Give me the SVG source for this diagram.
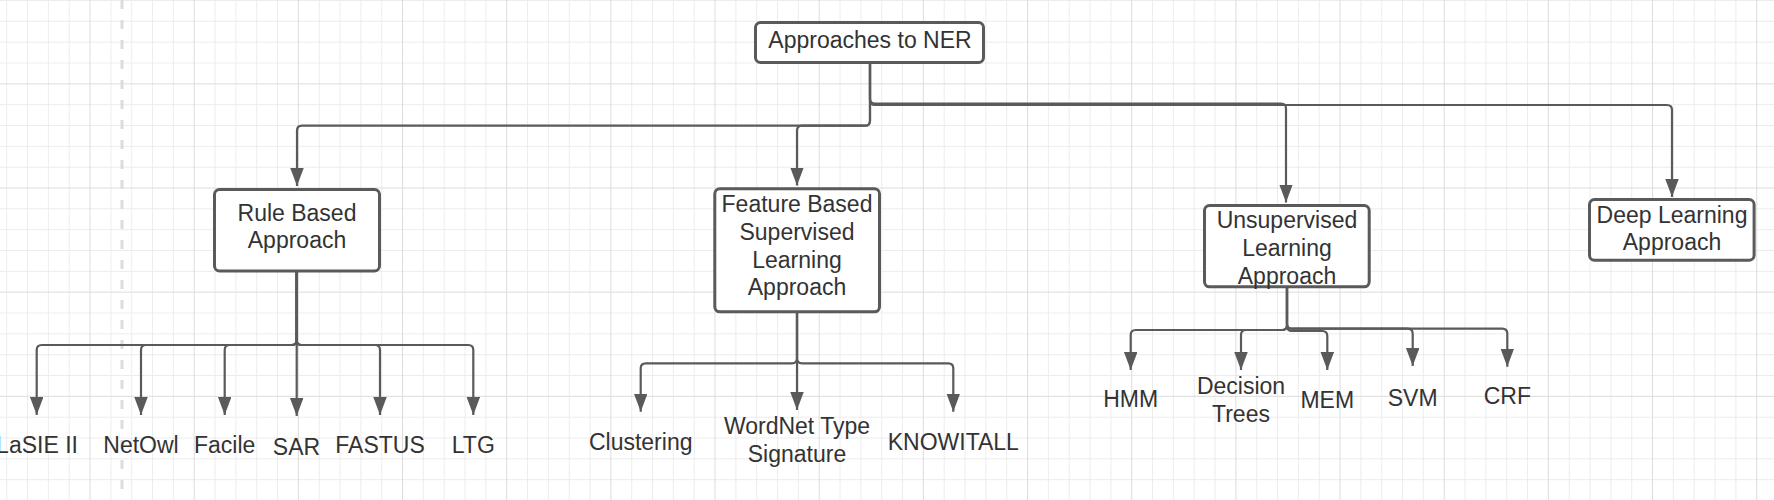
<svg xmlns="http://www.w3.org/2000/svg" width="1774" height="500" viewBox="0 0 1774 500">
<defs>
<pattern id="grid" patternUnits="userSpaceOnUse" x="6.2" y="0" width="104.1667" height="104.1667">
<path d="M0.5,0 V104.2 M21.33,0 V104.2 M42.17,0 V104.2 M63,0 V104.2 M0,0.5 H104.2 M0,21.33 H104.2 M0,42.17 H104.2 M0,63 H104.2" stroke="#ececec" stroke-width="1" fill="none"/>
<path d="M83.83,0 V104.2 M0,83.83 H104.2" stroke="#dcdcdc" stroke-width="1" fill="none"/>
</pattern>
<marker id="arr" markerUnits="userSpaceOnUse" markerWidth="19" markerHeight="14" refX="18" refY="6.75" orient="auto">
<path d="M0,0 L18,6.75 L0,13.5 Z" fill="#5a5a5a"/>
</marker>
<style>
.box{fill:#ffffff;stroke:#5a5a5a;stroke-width:3}
.t{font-family:"Liberation Sans",Arial,sans-serif;font-size:23px;fill:#333333;text-anchor:middle}
.c{fill:none;stroke:#5a5a5a;stroke-width:2.2;marker-end:url(#arr)}
</style>
</defs>
<rect width="1774" height="500" fill="#ffffff"/>
<rect width="1774" height="500" fill="url(#grid)"/>
<line x1="122" y1="0" x2="122" y2="490" stroke="#dcdcdc" stroke-width="3" stroke-dasharray="9 11"/>

<g id="connectors">
<path class="c" d="M870,64 V120.7 q0,5 -5,5 H302 q-5,0 -5,5 V186"/>
<path class="c" d="M870,64 V120.7 q0,5 -5,5 H802 q-5,0 -5,5 V185.5"/>
<path class="c" d="M870,64 V98.5 q0,5 5,5 H1281 q5,0 5,5 V202.5"/>
<path class="c" d="M870,64 V100 q0,5 5,5 H1667 q5,0 5,5 V197"/>

<path class="c" d="M296.7,272 V340 q0,5 -5,5 H41.7 q-5,0 -5,5 V415"/>
<path class="c" d="M296.7,272 V340 q0,5 -5,5 H146 q-5,0 -5,5 V415"/>
<path class="c" d="M296.7,272 V340 q0,5 -5,5 H229.7 q-5,0 -5,5 V415"/>
<path class="c" d="M296.7,272 V416"/>
<path class="c" d="M296.7,272 V340 q0,5 5,5 H375 q5,0 5,5 V415"/>
<path class="c" d="M296.7,272 V340 q0,5 5,5 H468.3 q5,0 5,5 V415"/>

<path class="c" d="M797,313 V358.3 q0,5 -5,5 H645.7 q-5,0 -5,5 V411.7"/>
<path class="c" d="M797,313 V410"/>
<path class="c" d="M797,313 V358.3 q0,5 5,5 H948.3 q5,0 5,5 V411.7"/>

<path class="c" d="M1287,288 V325 q0,5 -5,5 H1135.7 q-5,0 -5,5 V370"/>
<path class="c" d="M1287,288 V325 q0,5 -5,5 H1246 q-5,0 -5,5 V370"/>
<path class="c" d="M1287,288 V326 q0,5 5,5 H1322.3 q5,0 5,5 V370"/>
<path class="c" d="M1287,288 V323.7 q0,5 5,5 H1407.7 q5,0 5,5 V366"/>
<path class="c" d="M1287,288 V323.7 q0,5 5,5 H1502.3 q5,0 5,5 V366.7"/>
</g>

<g id="root">
<rect class="box" x="755.5" y="22.5" width="228" height="40" rx="5"/>
<text class="t" x="870" y="47.7">Approaches to NER</text>
</g>
<g id="rule-based">
<rect class="box" x="214.5" y="189.5" width="165" height="81.5" rx="5"/>
<text class="t" x="297" y="221">Rule Based</text>
<text class="t" x="297" y="248.3">Approach</text>
</g>
<g id="feature-based">
<rect class="box" x="714.8" y="188.8" width="164.7" height="123" rx="5"/>
<text class="t" x="797" y="211.7">Feature Based</text>
<text class="t" x="797" y="240">Supervised</text>
<text class="t" x="797" y="268.3">Learning</text>
<text class="t" x="797" y="295">Approach</text>
</g>
<g id="unsupervised">
<rect class="box" x="1204.5" y="205.5" width="164.7" height="81.3" rx="5"/>
<text class="t" x="1287" y="227.7">Unsupervised</text>
<text class="t" x="1287" y="256">Learning</text>
<text class="t" x="1287" y="284">Approach</text>
</g>
<g id="deep-learning">
<rect class="box" x="1589.5" y="199.5" width="164.6" height="60.7" rx="5"/>
<text class="t" x="1672" y="222.7">Deep Learning</text>
<text class="t" x="1672" y="250">Approach</text>
</g>

<g id="lasie"><text class="t" x="37" y="452.7">LaSIE II</text></g>
<g id="netowl"><text class="t" x="141" y="453.3">NetOwl</text></g>
<g id="facile"><text class="t" x="224.7" y="452.7">Facile</text></g>
<g id="sar"><text class="t" x="296.5" y="455">SAR</text></g>
<g id="fastus"><text class="t" x="380" y="452.7">FASTUS</text></g>
<g id="ltg"><text class="t" x="473.3" y="452.7">LTG</text></g>

<g id="clustering"><text class="t" x="640.7" y="450">Clustering</text></g>
<g id="wordnet"><text class="t" x="797" y="434">WordNet Type</text><text class="t" x="797" y="461.7">Signature</text></g>
<g id="knowitall"><text class="t" x="953.3" y="450">KNOWITALL</text></g>

<g id="hmm"><text class="t" x="1130.7" y="407.3">HMM</text></g>
<g id="decision-trees"><text class="t" x="1241" y="394.3">Decision</text><text class="t" x="1241" y="421.7">Trees</text></g>
<g id="mem"><text class="t" x="1327.3" y="408.3">MEM</text></g>
<g id="svm"><text class="t" x="1412.7" y="405.7">SVM</text></g>
<g id="crf"><text class="t" x="1507.3" y="404">CRF</text></g>
</svg>
